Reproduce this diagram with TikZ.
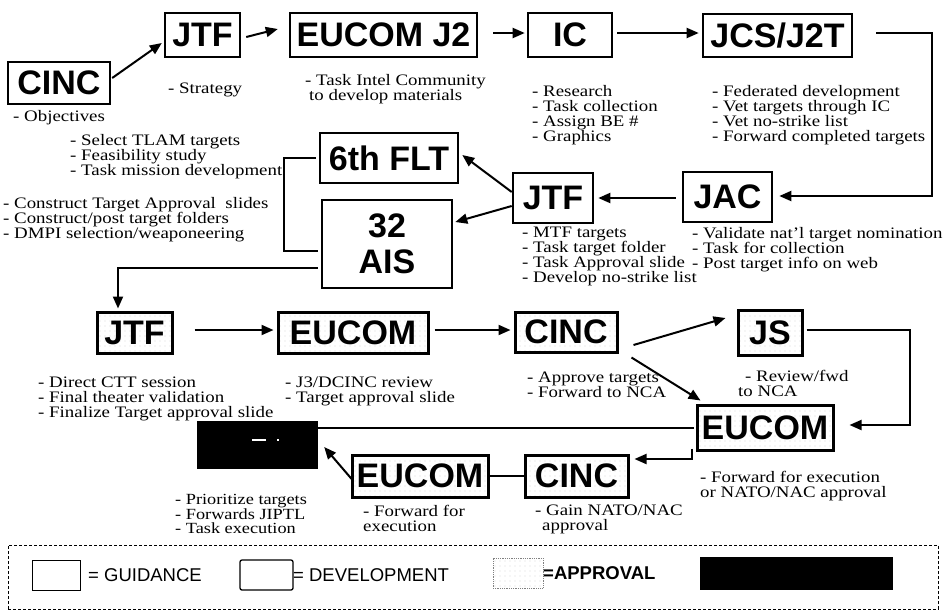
\documentclass[tikz,border=0pt]{standalone}
\usepackage{fontspec}
\setmainfont{Liberation Serif}[FakeStretch=1.18]
\setsansfont{Liberation Sans}
\usetikzlibrary{arrows.meta,calc,patterns.meta}
\begin{document}
\begin{tikzpicture}[x=1pt,y=-1pt,
  lab/.style={font=\sffamily\bfseries\fontsize{34}{36}\selectfont, inner sep=0, align=center},
  guid/.style={lab, draw, line width=2.4pt},
  devb/.style={lab, draw, line width=2.6pt},
  appr/.style={lab, draw, line width=3pt, pattern={Dots[distance=5pt,radius=0.45pt]}, pattern color=black!45},
  txt/.style={font=\fontsize{16}{15}\selectfont, inner sep=0, anchor=north west, align=left},
  legt/.style={font=\sffamily\fontsize{18.5}{20}\selectfont, inner sep=0, anchor=west},
  conn/.style={line width=2pt},
  arr/.style={conn, -{Triangle[length=12pt,width=10pt]}},
  redact/.style={fill=black, inner sep=0}]
\useasboundingbox (0,0) rectangle (944,611);
% ---- boxes
\node[guid, minimum width=102pt, minimum height=42pt] (cinc1) at (59,83) {CINC};
\node[guid, minimum width=75pt, minimum height=44pt] (jtf1) at (202.5,35) {JTF};
\node[guid, minimum width=187pt, minimum height=44pt] (eucomj2) at (383.5,35) {EUCOM J2};
\node[devb, minimum width=84pt, minimum height=44pt] (ic) at (570,35) {IC};
\node[devb, minimum width=149pt, minimum height=43pt] (jcs) at (777.5,35.5) {JCS/J2T};
\node[devb, minimum width=89pt, minimum height=50pt] (jac) at (727.5,197) {JAC};
\node[devb, minimum width=80pt, minimum height=50pt] (jtf2) at (553,198) {JTF};
\node[devb, minimum width=138pt, minimum height=50pt] (flt) at (389,158) {6th FLT};
\node[devb, minimum width=130pt, minimum height=88pt] (ais) at (387,244) {32\\AIS};
\node[appr, minimum width=75pt, minimum height=41pt] (jtf3) at (134.5,332.5) {JTF};
\node[appr, minimum width=150pt, minimum height=41pt] (eucom2) at (353,332.5) {EUCOM};
\node[appr, minimum width=102pt, minimum height=40pt] (cinc2) at (566,332) {CINC};
\node[appr, minimum width=64pt, minimum height=45pt] (js) at (770,332.5) {JS};
\node[appr, minimum width=136pt, minimum height=45pt] (eucom3) at (765,427.5) {EUCOM};
\node[appr, minimum width=136pt, minimum height=42pt] (eucom4) at (420,476) {EUCOM};
\node[appr, minimum width=103pt, minimum height=42pt] (cinc4) at (576.5,476) {CINC};
\node[redact, minimum width=121pt, minimum height=48pt] (blk) at (257.5,445) {};
\fill[white] ($(blk.center)+(-6,-6)$) rectangle ++(14,1.6);
\fill[white] ($(blk.center)+(19,-6)$) rectangle ++(2,1.6);
% ---- texts
\node[txt] (tobj) at (13,110) {- Objectives};
\node[txt] (tstr) at (168,83) {- Strategy};
\node[txt] (tint) at (305,74) {- Task Intel Community\\\hspace*{4pt}to develop materials};
\node[txt] (tic) at (532,85) {- Research\\- Task collection\\- Assign BE \#\\- Graphics};
\node[txt] (tjcs) at (712,85) {- Federated development\\- Vet targets through IC\\- Vet no-strike list\\- Forward completed targets};
\node[txt] (tflt) at (70,134) {- Select TLAM targets\\- Feasibility study\\- Task mission development};
\node[txt] (tais) at (3,197) {- Construct Target Approval~ slides\\- Construct/post target folders\\- DMPI selection/weaponeering};
\node[txt] (tjtf2) at (522,227) {- MTF targets\\- Task target folder\\- Task Approval slide\\- Develop no-strike list};
\node[txt] (tjac) at (692,227) {- Validate nat’l target nomination\\- Task for collection\\- Post target info on web};
\node[txt] (tjtf3) at (38,377) {- Direct CTT session\\- Final theater validation\\- Finalize Target approval slide};
\node[txt] (teu2) at (285,377) {- J3/DCINC review\\- Target approval slide};
\node[txt] (tci2) at (527,372) {- Approve targets\\- Forward to NCA};
\node[txt] (tjs) at (738,370) {\hspace*{7pt}- Review/fwd\\to NCA};
\node[txt] (teu3) at (700,471) {- Forward for execution\\or NATO/NAC approval};
\node[txt, font=\fontsize{15.5}{14}\selectfont] (tblk) at (175,494) {- Prioritize targets\\- Forwards JIPTL\\- Task execution};
\node[txt] (teu4) at (363,505) {- Forward for\\execution};
\node[txt] (tci4) at (535,505) {- Gain NATO/NAC\\\hspace*{7pt}approval};
% ---- connectors
\draw[arr] ($(cinc1.east)+(1,-5)$) -- ($(jtf1.west)+(-2,8)$);
\draw[arr] ($(jtf1.east)+(5,2)$) -- ($(eucomj2.west)+(-11,-6)$);
\draw[arr] ($(eucomj2.east)+(15,-2)$) -- ($(ic.west)+(-2,-2)$);
\draw[arr] ($(ic.east)+(4,-2)$) -- ($(jcs.west)+(-3,-2.5)$);
\coordinate (rc) at (932,33);
\draw[arr] ($(jcs.east)+(23,-2.5)$) -- (rc) |- ($(jac.east)+(6,-1)$);
\draw[arr] ($(jac.west)+(-6,1)$) -- ($(jtf2.east)+(4,0)$);
\draw[arr] ($(jtf2.west)+(0,-6)$) -- ($(flt.east)+(3,-3)$);
\draw[arr] ($(jtf2.west)+(0,8)$) -- ($(ais.east)+(2,-22)$);
\draw[conn] ($(flt.west)+(-3,0)$) -- ++(-32,0) |- ($(ais.west)+(-3,7)$);
\draw[arr] ($(ais.west)+(-3,24)$) -| ($(jtf3.north)+(-16.5,-2)$);
\draw[arr] ($(jtf3.east)+(21,-2.5)$) -- ($(eucom2.west)+(-3,-2.5)$);
\draw[arr] ($(eucom2.east)+(5,-2.5)$) -- ($(cinc2.west)+(-3,-2)$);
\draw[arr] ($(cinc2.east)+(15,13)$) -- ($(js.west)+(-11,-14.5)$);
\coordinate (rj) at (910,330);
\draw[arr] ($(js.east)+(3,-2.5)$) -- (rj) |- ($(eucom3.east)+(15,-2.5)$);
\draw[arr] ($(cinc2.south east)+(13,4)$) -- ($(eucom3.north west)+(5,-3)$);
\draw[conn] ($(eucom3.west)+(-2,0)$) -- (eucom3.west -| blk.east);
\draw[arr] ($(eucom3.south west)+(-4,-3)$) |- ($(cinc4.east)+(5,-17)$);
\draw[conn] (cinc4.west) -- (eucom4.east);
\draw[arr] ($(eucom4.west)+(2,4)$) -- ($(blk.east)+(6,2)$);
% ---- legend
\node[draw, densely dashed, line width=0.7pt, inner sep=0, minimum width=930pt, minimum height=64pt] (leg) at (473,577) {};
\node[draw, line width=1pt, inner sep=0, minimum width=48pt, minimum height=30pt] (lg1) at (56,575) {};
\node[legt] (lg1t) at (88,575) {= GUIDANCE};
\node[draw, line width=1.3pt, rounded corners=2pt, inner sep=0, minimum width=53pt, minimum height=30pt] (lg2) at (266.5,575) {};
\node[legt] (lg2t) at (293,575) {= DEVELOPMENT};
\node[draw=gray, densely dotted, line width=0.8pt, inner sep=0, minimum width=50pt, minimum height=30pt, pattern={Dots[distance=5pt,radius=0.45pt]}, pattern color=black!45] (lg3) at (518,573) {};
\node[legt, font=\sffamily\bfseries\fontsize{18.5}{20}\selectfont] (lg3t) at (543,573) {=APPROVAL};
\node[redact, minimum width=193pt, minimum height=33pt] (lg4) at (796.5,573) {};
\end{tikzpicture}
\end{document}
